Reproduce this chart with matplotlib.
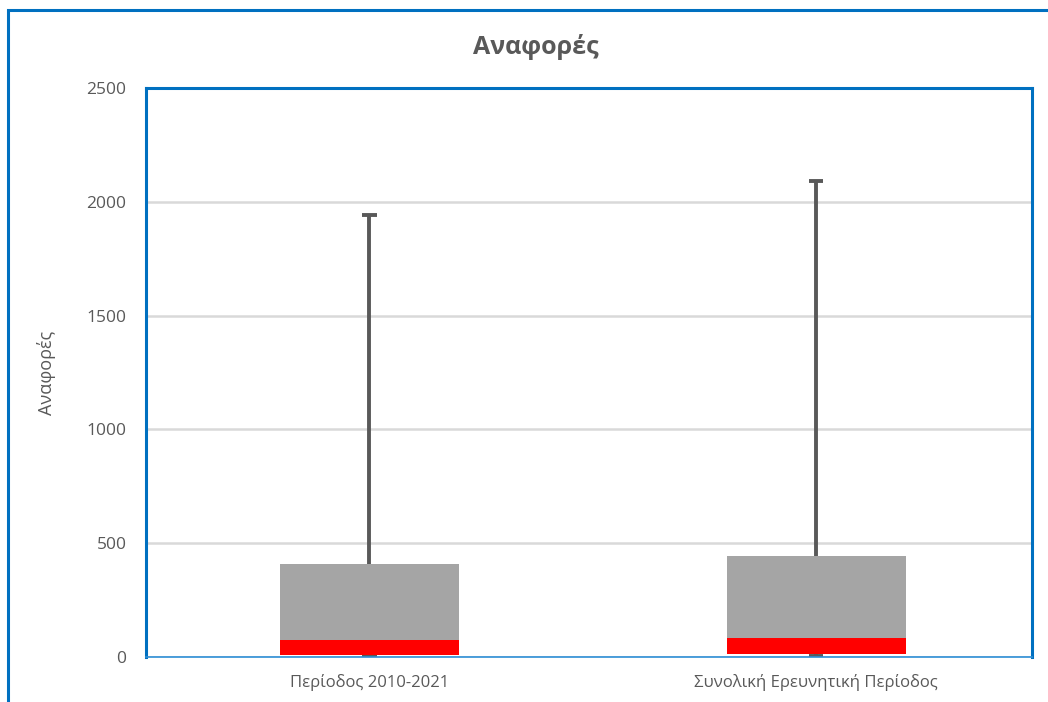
"""Box plot of citations drawn as stacked bars (Excel style)."""

import matplotlib
matplotlib.use("Agg")
import matplotlib.pyplot as plt
from matplotlib.patches import Rectangle

categories = ["Περίοδος 2010-2021", "Συνολική Ερευνητική Περίοδος"]
minimum = [3, 3]
q1 = [9, 15]
median = [75, 85]
q3 = [410, 444]
maximum = [1940, 2092]
yticks = [0, 500, 1000, 1500, 2000, 2500]

TEXT = "#595959"
BLUE = "#0070C0"

plt.rcParams["font.family"] = ["Open Sans", "DejaVu Sans"]

fig = plt.figure(figsize=(10.48, 7.02), dpi=100)
ax = fig.add_axes([0.1393, 0.0641, 0.8454, 0.8105])

# outer chart border
fig.patches.append(Rectangle((8 / 1048, -0.05), 1.1, 1 - 10 / 702 + 0.05,
                             transform=fig.transFigure, fill=False,
                             edgecolor=BLUE, linewidth=2.2, zorder=0))

x = range(len(categories))
width = 0.40
lower = [m - q for m, q in zip(median, q1)]
upper = [t - m for t, m in zip(q3, median)]

ax.bar(x, lower, width, bottom=q1, color="#FF0000", zorder=3)
ax.bar(x, upper, width, bottom=median, color="#A5A5A5", zorder=3)

# whiskers
cap = 0.016
ax.vlines(x, q3, maximum, color=TEXT, linewidth=2.8, zorder=2)
ax.vlines(x, minimum, q1, color=TEXT, linewidth=2.8, zorder=2)
ax.hlines(maximum, [i - cap for i in x], [i + cap for i in x],
          color=TEXT, linewidth=2.8, zorder=2)
ax.hlines(minimum, [i - cap for i in x], [i + cap for i in x],
          color=TEXT, linewidth=2.8, zorder=2)

ax.set_xlim(-0.5, 1.483)
ax.set_ylim(0, 2500)
ax.set_yticks(yticks)
ax.set_xticks(list(x))
ax.set_xticklabels(categories, fontsize=12)
ax.tick_params(axis="y", length=0, colors=TEXT, labelsize=12.5, pad=14)
ax.tick_params(axis="x", length=0, colors=TEXT, pad=12)
ax.grid(axis="y", color="#D9D9D9", linewidth=1.8, zorder=0)
ax.set_axisbelow(True)

for side in ["top", "left", "right"]:
    ax.spines[side].set_color(BLUE)
    ax.spines[side].set_linewidth(2.2)
ax.spines["bottom"].set_color("#2E8FD6")
ax.spines["bottom"].set_linewidth(1.2)

ax.set_ylabel("Αναφορές", color=TEXT, fontsize=13, labelpad=22)
fig.text(536 / 1048, 0.933, "Αναφορές", ha="center", va="center",
         fontsize=18, fontweight="bold", color=TEXT)

fig.savefig("out.png", dpi=100)
